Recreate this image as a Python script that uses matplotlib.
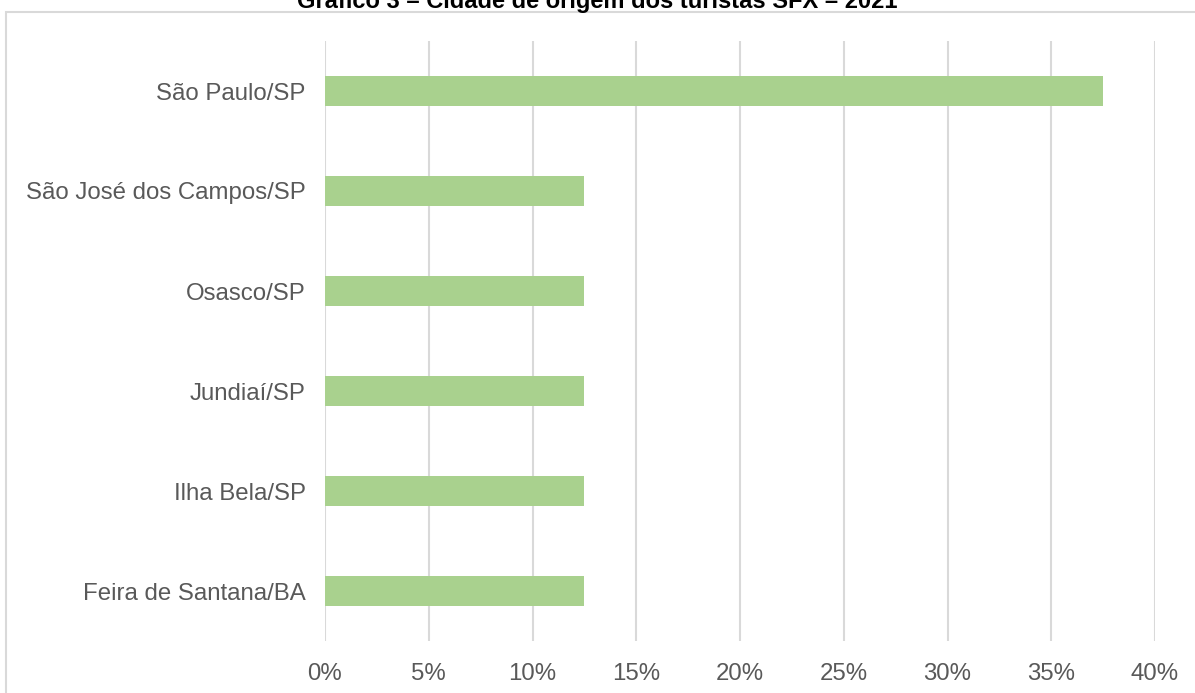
import matplotlib.pyplot as plt
from matplotlib.patches import Rectangle
from matplotlib.ticker import PercentFormatter

plt.rcParams['font.family'] = ['Liberation Sans', 'DejaVu Sans']

cidades = ['São Paulo/SP', 'São José dos Campos/SP', 'Osasco/SP',
           'Jundiaí/SP', 'Ilha Bela/SP', 'Feira de Santana/BA']
percentual = [37.5, 12.5, 12.5, 12.5, 12.5, 12.5]
ticks = [0, 5, 10, 15, 20, 25, 30, 35, 40]

fig = plt.figure(figsize=(11.95, 6.93), dpi=100)
W, H = 1195, 693

# frame around the chart (partially cut off like the source)
fig.patches.append(Rectangle((6 / W, -0.1), 1.2, 1 - 12 / H + 0.1,
                             transform=fig.transFigure, fill=False,
                             edgecolor='#d9d9d9', linewidth=1.5))

fig.text(597 / W, 1 - 8 / H, 'Gráfico 3 – Cidade de origem dos turistas SFX – 2021',
         ha='center', va='baseline', fontsize=17, fontweight='bold', color='black')

ax = fig.add_axes([325 / W, 1 - 641 / H, 830 / W, 600 / H])
y = list(range(len(cidades)))
ax.barh(y, percentual, height=0.3, color='#a9d18e', zorder=3)
ax.set_ylim(len(cidades) - 0.5, -0.5)
ax.set_yticks(y)
ax.set_yticklabels(cidades)
ax.set_xlim(0, 40)
ax.set_xticks(ticks)
ax.xaxis.set_major_formatter(PercentFormatter(decimals=0))
ax.grid(axis='x', color='#d9d9d9', linewidth=1.5, zorder=0)
for s in ax.spines.values():
    s.set_visible(False)
ax.tick_params(axis='both', length=0, labelsize=17.3, labelcolor='#595959')
ax.tick_params(axis='x', pad=16)
ax.tick_params(axis='y', pad=14)

fig.savefig('out.png', dpi=100)
